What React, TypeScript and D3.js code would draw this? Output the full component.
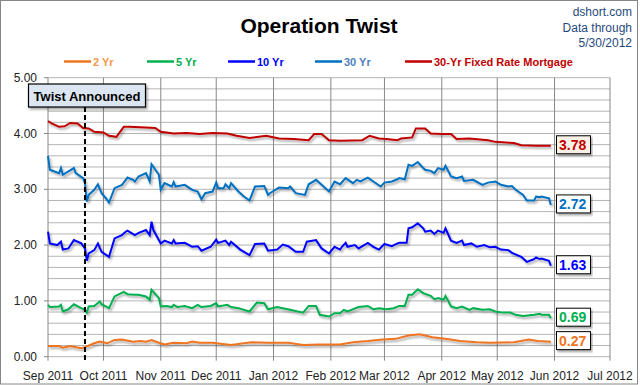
import React from 'react';
import * as d3 from 'd3';

// treasury yields & mortgage rate (M/D/YY, percent)
const yr2: [string, number][] = [
  ['9/1/11', 0.19], ['9/7/11', 0.19], ['9/9/11', 0.16], ['9/13/11', 0.19], ['9/15/11', 0.18],
  ['9/19/11', 0.15], ['9/21/11', 0.17], ['9/26/11', 0.24], ['9/29/11', 0.27], ['10/3/11', 0.24],
  ['10/7/11', 0.3], ['10/11/11', 0.31], ['10/17/11', 0.27], ['10/21/11', 0.28], ['10/24/11', 0.27],
  ['10/27/11', 0.3], ['10/31/11', 0.25], ['11/3/11', 0.22], ['11/8/11', 0.25], ['11/15/11', 0.24],
  ['11/18/11', 0.27], ['11/22/11', 0.25], ['11/29/11', 0.25], ['12/9/11', 0.21], ['12/20/11', 0.26],
  ['12/29/11', 0.25], ['1/9/12', 0.25], ['1/17/12', 0.21], ['1/25/12', 0.22], ['2/6/12', 0.22],
  ['2/13/12', 0.26], ['2/21/12', 0.28], ['2/29/12', 0.31], ['3/7/12', 0.32], ['3/14/12', 0.38],
  ['3/20/12', 0.4], ['3/27/12', 0.35], ['4/3/12', 0.32], ['4/11/12', 0.28], ['4/20/12', 0.26],
  ['4/27/12', 0.25], ['5/10/12', 0.26], ['5/18/12', 0.31], ['5/23/12', 0.28], ['5/30/12', 0.27],
];

const yr5: [string, number][] = [
  ['9/1/11', 0.93], ['9/2/11', 0.89], ['9/7/11', 0.9], ['9/8/11', 0.93], ['9/9/11', 0.81],
  ['9/12/11', 0.85], ['9/15/11', 0.94], ['9/19/11', 0.87], ['9/21/11', 0.84], ['9/22/11', 0.79],
  ['9/23/11', 0.9], ['9/26/11', 0.91], ['9/29/11', 0.99], ['9/30/11', 0.94], ['10/4/11', 0.87],
  ['10/7/11', 1.08], ['10/12/11', 1.16], ['10/14/11', 1.12], ['10/18/11', 1.11], ['10/20/11', 1.11],
  ['10/24/11', 1.08], ['10/26/11', 1.02], ['10/27/11', 1.2], ['10/31/11', 1.05], ['11/1/11', 0.9],
  ['11/4/11', 0.91], ['11/7/11', 0.89], ['11/8/11', 0.93], ['11/10/11', 0.89], ['11/14/11', 0.91],
  ['11/18/11', 0.87], ['11/21/11', 0.93], ['11/23/11', 0.89], ['11/28/11', 0.91], ['12/1/11', 0.96],
  ['12/2/11', 0.9], ['12/7/11', 0.93], ['12/9/11', 0.89], ['12/13/11', 0.87], ['12/19/11', 0.81],
  ['12/23/11', 0.97], ['12/27/11', 0.96], ['12/29/11', 0.85], ['1/3/12', 0.89], ['1/6/12', 0.87],
  ['1/10/12', 0.84], ['1/17/12', 0.79], ['1/20/12', 0.91], ['1/24/12', 0.91], ['1/26/12', 0.75],
  ['1/31/12', 0.72], ['2/3/12', 0.78], ['2/6/12', 0.78], ['2/8/12', 0.84], ['2/10/12', 0.81],
  ['2/16/12', 0.89], ['2/21/12', 0.91], ['2/24/12', 0.85], ['2/27/12', 0.87], ['3/2/12', 0.85],
  ['3/6/12', 0.87], ['3/9/12', 0.91], ['3/12/12', 0.91], ['3/14/12', 1.11], ['3/16/12', 1.11],
  ['3/19/12', 1.21], ['3/22/12', 1.14], ['3/26/12', 1.09], ['3/28/12', 1.03], ['3/30/12', 1.05],
  ['4/2/12', 1.02], ['4/3/12', 1.09], ['4/6/12', 0.9], ['4/9/12', 0.87], ['4/12/12', 0.9],
  ['4/16/12', 0.84], ['4/18/12', 0.87], ['4/23/12', 0.84], ['4/27/12', 0.85], ['4/30/12', 0.81],
  ['5/4/12', 0.79], ['5/8/12', 0.79], ['5/11/12', 0.75], ['5/15/12', 0.73], ['5/21/12', 0.75],
  ['5/24/12', 0.77], ['5/25/12', 0.75], ['5/29/12', 0.75], ['5/30/12', 0.69],
];

const yr10: [string, number][] = [
  ['9/1/11', 2.24], ['9/2/11', 2.03], ['9/6/11', 2.0], ['9/8/11', 2.06], ['9/9/11', 1.92],
  ['9/12/11', 1.94], ['9/15/11', 2.09], ['9/19/11', 2.03], ['9/21/11', 1.94], ['9/22/11', 1.72],
  ['9/23/11', 1.85], ['9/26/11', 1.91], ['9/28/11', 2.03], ['9/30/11', 1.88], ['10/4/11', 1.79],
  ['10/7/11', 2.12], ['10/11/11', 2.18], ['10/13/11', 2.24], ['10/14/11', 2.26], ['10/18/11', 2.18],
  ['10/20/11', 2.22], ['10/24/11', 2.27], ['10/26/11', 2.18], ['10/27/11', 2.42], ['10/28/11', 2.27],
  ['11/1/11', 2.03], ['11/3/11', 2.08], ['11/7/11', 2.03], ['11/8/11', 2.09], ['11/9/11', 2.03],
  ['11/14/11', 2.04], ['11/18/11', 1.97], ['11/21/11', 1.98], ['11/23/11', 1.9], ['11/28/11', 1.97],
  ['12/1/11', 2.1], ['12/2/11', 2.04], ['12/6/11', 2.08], ['12/8/11', 2.0], ['12/9/11', 2.06],
  ['12/14/11', 1.92], ['12/19/11', 1.82], ['12/22/11', 2.02], ['12/27/11', 2.03], ['12/29/11', 1.9],
  ['1/3/12', 1.92], ['1/6/12', 2.01], ['1/9/12', 1.98], ['1/13/12', 1.88], ['1/17/12', 1.88],
  ['1/19/12', 2.06], ['1/24/12', 2.09], ['1/27/12', 1.94], ['1/31/12', 1.85], ['2/3/12', 1.97],
  ['2/6/12', 1.92], ['2/7/12', 1.97], ['2/9/12', 2.04], ['2/10/12', 1.97], ['2/14/12', 2.0],
  ['2/16/12', 1.94], ['2/21/12', 2.04], ['2/24/12', 1.97], ['2/27/12', 1.92], ['3/1/12', 2.02],
  ['3/5/12', 1.98], ['3/8/12', 2.03], ['3/9/12', 2.04], ['3/13/12', 2.04], ['3/14/12', 2.3],
  ['3/16/12', 2.32], ['3/19/12', 2.39], ['3/22/12', 2.3], ['3/23/12', 2.24], ['3/26/12', 2.26],
  ['3/28/12', 2.2], ['3/30/12', 2.26], ['4/2/12', 2.22], ['4/3/12', 2.3], ['4/6/12', 2.08],
  ['4/9/12', 2.04], ['4/12/12', 2.08], ['4/13/12', 2.0], ['4/17/12', 2.03], ['4/20/12', 1.97],
  ['4/24/12', 2.0], ['4/27/12', 1.96], ['4/30/12', 1.97], ['5/3/12', 1.92], ['5/7/12', 1.91],
  ['5/9/12', 1.86], ['5/14/12', 1.79], ['5/17/12', 1.7], ['5/21/12', 1.75], ['5/22/12', 1.78],
  ['5/24/12', 1.75], ['5/25/12', 1.76], ['5/29/12', 1.72], ['5/30/12', 1.63],
];

const yr30: [string, number][] = [
  ['9/1/11', 3.6], ['9/2/11', 3.35], ['9/7/11', 3.29], ['9/8/11', 3.38], ['9/9/11', 3.26],
  ['9/15/11', 3.38], ['9/16/11', 3.29], ['9/20/11', 3.2], ['9/21/11', 3.11], ['9/22/11', 2.78],
  ['9/23/11', 2.9], ['9/26/11', 2.99], ['9/28/11', 3.09], ['9/30/11', 2.93], ['10/3/11', 2.81],
  ['10/4/11', 2.76], ['10/7/11', 3.02], ['10/11/11', 3.08], ['10/14/11', 3.21], ['10/17/11', 3.17],
  ['10/18/11', 3.14], ['10/20/11', 3.23], ['10/24/11', 3.29], ['10/26/11', 3.14], ['10/27/11', 3.45],
  ['10/31/11', 3.26], ['11/1/11', 2.99], ['11/3/11', 3.11], ['11/7/11', 3.05], ['11/8/11', 3.13],
  ['11/9/11', 3.05], ['11/14/11', 3.08], ['11/18/11', 2.99], ['11/21/11', 2.96], ['11/23/11', 2.82],
  ['11/25/11', 2.93], ['11/29/11', 2.96], ['12/1/11', 3.12], ['12/2/11', 3.02], ['12/5/11', 3.02],
  ['12/6/11', 3.09], ['12/8/11', 3.02], ['12/9/11', 3.11], ['12/13/11', 2.96], ['12/16/11', 2.87],
  ['12/19/11', 2.8], ['12/22/11', 3.05], ['12/27/11', 3.06], ['12/29/11', 2.9], ['12/30/11', 2.93],
  ['1/4/12', 3.03], ['1/9/12', 3.02], ['1/10/12', 3.05], ['1/13/12', 2.93], ['1/18/12', 2.9],
  ['1/20/12', 3.09], ['1/24/12', 3.17], ['1/27/12', 3.08], ['1/31/12', 2.96], ['2/3/12', 3.14],
  ['2/6/12', 3.09], ['2/9/12', 3.2], ['2/13/12', 3.11], ['2/15/12', 3.17], ['2/17/12', 3.14],
  ['2/21/12', 3.21], ['2/24/12', 3.14], ['2/28/12', 3.05], ['3/1/12', 3.12], ['3/5/12', 3.14],
  ['3/8/12', 3.18], ['3/9/12', 3.2], ['3/12/12', 3.18], ['3/14/12', 3.44], ['3/16/12', 3.42],
  ['3/19/12', 3.49], ['3/22/12', 3.38], ['3/23/12', 3.35], ['3/26/12', 3.33], ['3/28/12', 3.29],
  ['3/30/12', 3.38], ['4/2/12', 3.35], ['4/3/12', 3.42], ['4/6/12', 3.23], ['4/9/12', 3.2],
  ['4/12/12', 3.23], ['4/13/12', 3.15], ['4/18/12', 3.17], ['4/23/12', 3.08], ['4/26/12', 3.12],
  ['4/30/12', 3.14], ['5/3/12', 3.08], ['5/7/12', 3.05], ['5/9/12', 3.06], ['5/11/12', 2.99],
  ['5/15/12', 2.9], ['5/17/12', 2.8], ['5/21/12', 2.8], ['5/22/12', 2.87], ['5/24/12', 2.86],
  ['5/25/12', 2.87], ['5/29/12', 2.84], ['5/30/12', 2.72],
];

const mortgage30: [string, number][] = [
  ['9/1/11', 4.22], ['9/3/11', 4.18], ['9/7/11', 4.12], ['9/10/11', 4.13], ['9/13/11', 4.19],
  ['9/17/11', 4.18], ['9/20/11', 4.1], ['9/23/11', 4.09], ['9/26/11', 4.03], ['10/1/11', 4.02],
  ['10/4/11', 3.96], ['10/8/11', 3.94], ['10/12/11', 4.12], ['10/15/11', 4.12], ['10/21/11', 4.11],
  ['10/29/11', 4.1], ['11/1/11', 4.03], ['11/8/11', 4.0], ['11/15/11', 4.01], ['11/22/11', 3.99],
  ['11/29/11', 4.01], ['12/7/11', 4.0], ['12/12/11', 3.96], ['12/19/11', 3.92], ['12/28/11', 3.96],
  ['1/4/12', 3.91], ['1/12/12', 3.9], ['1/20/12', 3.88], ['1/23/12', 3.99], ['1/27/12', 3.99],
  ['1/31/12', 3.88], ['2/6/12', 3.87], ['2/18/12', 3.88], ['2/22/12', 3.96], ['2/27/12', 3.91],
  ['3/2/12', 3.9], ['3/8/12', 3.88], ['3/10/12', 3.91], ['3/16/12', 3.93], ['3/18/12', 4.09],
  ['3/23/12', 4.09], ['3/26/12', 4.0], ['4/1/12', 3.99], ['4/6/12', 3.99], ['4/9/12', 3.9],
  ['4/16/12', 3.91], ['4/26/12', 3.88], ['4/30/12', 3.85], ['5/10/12', 3.83], ['5/14/12', 3.79],
  ['5/22/12', 3.78], ['5/30/12', 3.78],
];

const seriesNames = ['2 Yr', '5 Yr', '10 Yr', '30 Yr', '30-Yr Fixed Rate Mortgage'];
const seriesData = [yr2, yr5, yr10, yr30, mortgage30];
const lineColors = ['#ee7420', '#00b050', '#0000ff', '#0070c0', '#c00000'];
const legendTextColors = ['#f79646', '#00b050', '#0000ff', '#4f81bd', '#c00000'];
const legendX = [64, 147, 228, 315, 405];
const yTicks = [0, 1, 2, 3, 4, 5];
const twistDate = '9/21/11';
const sourceLines = ['dshort.com', 'Data through', '5/30/2012'];

const parse = d3.timeParse('%m/%d/%y');
const font = '"Liberation Sans", Arial, sans-serif';

export default function App() {
  const width = 640;
  const height = 385;
  const margin = { left: 48, right: 610, top: 77.7, bottom: 356.7 };

  const x = d3
    .scaleTime()
    .domain([new Date(2011, 8, 1), new Date(2012, 6, 1)])
    .range([margin.left, margin.right]);
  const y = d3.scaleLinear().domain([0, 5]).range([margin.bottom, margin.top]);

  const months = x.ticks(d3.timeMonth.every(1));
  const minor = d3.range(0, 5.01, 0.2);

  const line = d3
    .line<[string, number]>()
    .x(d => x(parse(d[0]) as Date))
    .y(d => y(d[1]));

  const twistX = x(parse(twistDate) as Date);

  return (
    <svg
      width={width}
      height={height}
      style={{ position: 'absolute', left: 0, top: 0, background: '#fff' }}
      fontFamily={font}
    >
      <defs>
        <filter id="shadow" x="-5%" y="-5%" width="110%" height="130%">
          <feDropShadow dx="1.5" dy="2" stdDeviation="1" floodColor="#000" floodOpacity="0.35" />
        </filter>
      </defs>
      <rect x={0.5} y={0.5} width={637} height={383.5} fill="#fff" stroke="#868686" />

      {/* title and source */}
      <text x={319} y={33} textAnchor="middle" fontSize={21} fontWeight="bold" fill="#000">
        Operation Twist
      </text>
      {sourceLines.map((s, i) => (
        <text key={s} x={632} y={16 + i * 15.5} textAnchor="end" fontSize={12} fill="#1f497d">
          {s}
        </text>
      ))}

      {/* legend */}
      {seriesNames.map((n, i) => (
        <g key={n}>
          <line x1={legendX[i]} x2={legendX[i] + 27} y1={61.5} y2={61.5} stroke={lineColors[i]} strokeWidth={2.5} />
          <text x={legendX[i] + 29} y={65.5} fontSize={11} fontWeight="bold" fill={legendTextColors[i]}>
            {n}
          </text>
        </g>
      ))}

      {/* grid */}
      {minor.map(v => (
        <line key={v} x1={margin.left} x2={margin.right} y1={y(v)} y2={y(v)} stroke="#b4b4b4" strokeWidth={1} />
      ))}
      {months.map(m => (
        <line key={+m} x1={x(m)} x2={x(m)} y1={margin.top} y2={margin.bottom + 4} stroke="#888" strokeWidth={1} />
      ))}
      {yTicks.map(v => (
        <g key={v}>
          <line x1={margin.left - 4} x2={margin.left} y1={y(v)} y2={y(v)} stroke="#888" />
          <text x={37} y={y(v) + 4} textAnchor="end" fontSize={12} fill="#222">
            {v.toFixed(2)}
          </text>
        </g>
      ))}
      {months.map(m => (
        <text key={+m} x={x(m)} y={380} textAnchor="middle" fontSize={12} fill="#222">
          {d3.timeFormat('%b %Y')(m)}
        </text>
      ))}

      {/* series */}
      {seriesData.map((d, i) => (
        <path key={i} d={line(d) || ''} fill="none" stroke={lineColors[i]} strokeWidth={2} filter="url(#shadow)" />
      ))}

      {/* twist marker */}
      <line x1={twistX} x2={twistX} y1={107} y2={margin.bottom + 4} stroke="#000" strokeWidth={2} strokeDasharray="5,3" />
      <rect x={28.5} y={84} width={117} height={23} fill="#dce6f2" stroke="#000" strokeWidth={1.2} filter="url(#shadow)" />
      <text x={87} y={100.5} textAnchor="middle" fontSize={13} fontWeight="bold" fill="#000">
        Twist Announced
      </text>

      {/* last value labels */}
      {seriesData.map((d, i) => {
        const last = d[d.length - 1][1];
        const cy = y(last) - 1;
        return (
          <g key={i}>
            <rect x={556.5} y={cy - 9} width={34} height={18} fill={i === 4 ? '#f7f1e6' : '#fff'} stroke="#000" strokeWidth={1} filter="url(#shadow)" />
            <text x={559} y={cy + 5} fontSize={14} fontWeight="bold" fill={lineColors[i]}>
              {last.toFixed(2)}
            </text>
          </g>
        );
      })}
    </svg>
  );
}
